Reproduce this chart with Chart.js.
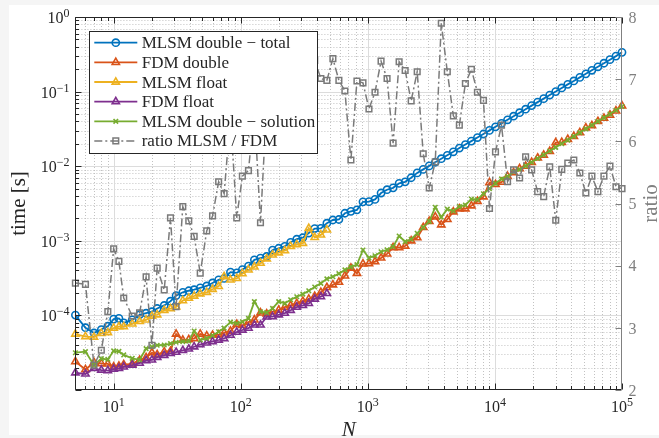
<!DOCTYPE html>
<html><head><meta charset="utf-8">
<script src="https://cdn.jsdelivr.net/npm/chart.js@4.4.1/dist/chart.umd.min.js"></script>
<style>html,body{margin:0;padding:0;background:#f5f5f5;overflow:hidden}canvas{display:block}</style>
</head><body>
<canvas id="c" width="659" height="438"></canvas>
<script>
// ---- data ----
const N = [5,6,7,8,9,10,11,12,14,16,18,20,22,25,28,31,35,39,43,48,54,60,67,74,83,93,103,115,128,143,160,178,199,222,247,276,308,343,382,427,476,531,592,660,736,821,916,1021,1139,1271,1417,1581,1763,1966,2193,2446,2728,3042,3393,3784,4221,4708,5250,5856,6531,7284,8125,9062,10106,11272,12572,14022,15639,17443,19454,21698,24201,26992,30105,33574,37447,41766,46583,51955,57943,64624,72079,80394,89672,100000];

const mlsmTotal = [1.01e-4,6.84e-5,5.82e-5,6.46e-5,7.16e-5,8.91e-5,9.12e-5,7.94e-5,8.71e-5,1.02e-4,
1.07e-4,1.12e-4,1.24e-4,1.36e-4,1.55e-4,1.84e-4,2.04e-4,2.14e-4,2.21e-4,2.34e-4,
2.48e-4,2.72e-4,2.99e-4,3.13e-4,3.80e-4,3.72e-4,4.12e-4,4.57e-4,5.56e-4,5.85e-4,
6.17e-4,7.50e-4,7.94e-4,8.41e-4,9.55e-4,1.05e-3,1.10e-3,1.27e-3,1.46e-3,1.47e-3,
1.72e-3,1.90e-3,1.93e-3,2.34e-3,2.48e-3,2.60e-3,3.33e-3,3.35e-3,3.59e-3,4.37e-3,
4.84e-3,5.13e-3,5.89e-3,6.17e-3,7.00e-3,8.13e-3,9.06e-3,1.01e-2,1.13e-2,1.26e-2,
1.40e-2,1.56e-2,1.75e-2,1.95e-2,2.17e-2,2.42e-2,2.70e-2,3.02e-2,3.37e-2,3.75e-2,
4.19e-2,4.68e-2,5.21e-2,5.81e-2,6.49e-2,7.23e-2,8.05e-2,8.99e-2,0.100,0.112,
0.125,0.139,0.155,0.173,0.193,0.215,0.240,0.268,0.299,0.336];

const fdmDouble = [2.40e-5,1.88e-5,2.34e-5,2.26e-5,2.24e-5,2.04e-5,2.09e-5,2.19e-5,2.24e-5,2.51e-5,
2.72e-5,3.16e-5,2.99e-5,3.24e-5,3.31e-5,5.62e-5,4.68e-5,4.73e-5,4.90e-5,5.62e-5,
5.31e-5,5.43e-5,5.50e-5,5.82e-5,6.17e-5,7.59e-5,7.33e-5,8.13e-5,8.71e-5,1.08e-4,
1.05e-4,1.12e-4,1.18e-4,1.29e-4,1.36e-4,1.45e-4,1.55e-4,1.66e-4,1.80e-4,2.04e-4,
2.37e-4,2.57e-4,2.79e-4,3.39e-4,4.32e-4,3.67e-4,4.90e-4,4.95e-4,5.27e-4,5.89e-4,
6.68e-4,8.13e-4,8.13e-4,8.51e-4,1.00e-3,1.10e-3,1.51e-3,1.82e-3,2.09e-3,1.64e-3,
1.94e-3,2.45e-3,2.69e-3,2.69e-3,2.95e-3,3.39e-3,3.89e-3,6.03e-3,5.69e-3,6.10e-3,
7.33e-3,8.22e-3,9.27e-3,1.00e-2,1.13e-2,1.29e-2,1.41e-2,1.58e-2,2.07e-2,2.09e-2,
2.29e-2,2.51e-2,2.82e-2,3.26e-2,3.51e-2,3.98e-2,4.40e-2,4.84e-2,5.52e-2,6.43e-2];

const mlsmFloat = [5.62e-5,5.19e-5,5.13e-5,5.75e-5,5.89e-5,6.76e-5,7.06e-5,7.06e-5,7.71e-5,8.32e-5,
8.71e-5,9.82e-5,1.02e-4,1.17e-4,1.23e-4,1.30e-4,1.58e-4,1.70e-4,1.82e-4,1.95e-4,
2.04e-4,2.24e-4,2.45e-4,3.31e-4,2.99e-4,3.13e-4,3.63e-4,4.07e-4,4.47e-4,5.01e-4,
5.75e-4,6.46e-4,6.92e-4,7.41e-4,8.41e-4,8.91e-4,9.23e-4,1.47e-3,1.11e-3,1.20e-3,
1.40e-3];

const fdmFloat = [1.70e-5,1.64e-5,1.95e-5,1.85e-5,1.82e-5,1.91e-5,1.95e-5,2.04e-5,2.16e-5,2.29e-5,
2.48e-5,2.53e-5,2.75e-5,2.92e-5,3.09e-5,3.21e-5,3.39e-5,3.55e-5,3.80e-5,4.07e-5,
4.27e-5,4.47e-5,4.68e-5,4.90e-5,5.43e-5,5.96e-5,6.37e-5,6.76e-5,7.45e-5,7.45e-5,
9.55e-5,9.62e-5,1.02e-4,1.07e-4,1.17e-4,1.29e-4,1.36e-4,1.45e-4,1.66e-4,1.78e-4,
1.97e-4];

const mlsmSolution = [3.16e-5,3.27e-5,2.16e-5,2.63e-5,2.57e-5,3.35e-5,3.29e-5,2.95e-5,2.66e-5,2.54e-5,
3.59e-5,3.80e-5,3.98e-5,4.01e-5,4.19e-5,4.37e-5,4.45e-5,4.52e-5,6.17e-5,4.68e-5,
4.93e-5,5.37e-5,6.03e-5,6.76e-5,8.13e-5,7.85e-5,8.22e-5,9.12e-5,1.53e-4,1.12e-4,
1.09e-4,1.24e-4,1.53e-4,1.45e-4,1.62e-4,1.78e-4,1.93e-4,2.14e-4,2.40e-4,2.69e-4,
3.09e-4,3.30e-4,3.63e-4,4.07e-4,4.47e-4,4.79e-4,7.53e-4,5.89e-4,6.31e-4,7.14e-4,
7.59e-4,8.34e-4,1.16e-3,9.73e-4,1.05e-3,1.26e-3,1.51e-3,1.82e-3,2.82e-3,2.08e-3,
2.66e-3,2.51e-3,2.88e-3,3.02e-3,3.63e-3,3.55e-3,4.27e-3,5.01e-3,5.89e-3,6.76e-3,
7.24e-3,8.43e-3,9.02e-3,1.01e-2,1.13e-2,1.27e-2,1.42e-2,1.60e-2,1.79e-2,2.00e-2,
2.24e-2,2.51e-2,2.82e-2,3.16e-2,3.55e-2,3.98e-2,4.47e-2,5.01e-2,5.62e-2,6.31e-2];

const ratio = [3.72,3.70,2.40,2.64,3.26,4.27,4.07,3.48,3.19,3.24,
3.82,2.72,3.96,3.61,4.77,3.34,4.95,4.72,4.47,3.88,
4.56,4.80,5.35,5.16,6.40,4.77,5.44,5.53,6.50,4.69,
6.60,6.70,6.70,6.50,7.00,7.20,7.00,7.40,7.30,7.01,
6.98,7.33,6.98,6.81,5.70,6.97,6.94,6.52,6.79,7.29,
7.01,5.97,7.28,7.14,6.65,7.12,5.80,5.25,5.67,7.90,
7.12,6.41,6.26,6.93,7.16,6.79,6.66,4.92,5.83,6.26,
5.35,5.54,5.41,5.75,5.54,5.19,5.11,5.59,4.73,5.55,
5.65,5.70,5.49,5.17,5.44,5.19,5.44,5.60,5.27,5.24];

const xTickExps = [1,2,3,4,5];
const yTickExps = [0,-1,-2,-3,-4];
const ratioTicks = [2,3,4,5,6,7,8];
const seriesLabels = ['MLSM double \u2212 total','FDM double','MLSM float','FDM float','MLSM double \u2212 solution','ratio MLSM / FDM'];

// ---- styles ----
const COLORS = ['#0072BD','#D95319','#EDB120','#7E2F8E','#77AC30','#7a7a7a'];
const STYLES = ['circle','triangle','triangle','triangle','crossRot','rect'];
const RADII = [3.6,4.2,4.2,4.2,3.2,4.0];
const DASHDOT = [8,3,2,3];
const AX = '#262626';
const SERIF = '"Liberation Serif","Times New Roman",serif';

function pts(xs, ys){ return ys.map((v,i)=>({x:xs[i], y:v})); }
function ds(i, ys, axis, order){
  return {
    label: seriesLabels[i], data: pts(N, ys), yAxisID: axis, order: order,
    borderColor: COLORS[i], backgroundColor: 'rgba(0,0,0,0)',
    borderWidth: i===5 ? 1.5 : 1.8, borderDash: i===5 ? DASHDOT : [],
    pointStyle: STYLES[i], pointRadius: RADII[i], pointHoverRadius: RADII[i],
    pointBorderColor: COLORS[i], pointBackgroundColor: 'rgba(0,0,0,0)',
    pointBorderWidth: i===5 ? 1.5 : 1.6, tension: 0, clip: false
  };
}

function pow10(ctx, exp, x, y, align, color){
  const base = '10', e = exp < 0 ? '\u2212' + (-exp) : String(exp);
  ctx.font = '16px ' + SERIF; const wb = ctx.measureText(base).width;
  ctx.font = '12px ' + SERIF; const we = ctx.measureText(e).width;
  const tot = wb + we;
  const x0 = align === 'center' ? x - tot/2 : x - tot;
  ctx.fillStyle = color; ctx.textAlign = 'left'; ctx.textBaseline = 'alphabetic';
  ctx.font = '16px ' + SERIF; ctx.fillText(base, x0, y);
  ctx.font = '12px ' + SERIF; ctx.fillText(e, x0 + wb, y - 6);
}

const frame = {
  id: 'frame',
  beforeDraw(chart){
    const c = chart.ctx;
    c.save();
    c.fillStyle = '#f5f5f5'; c.fillRect(0,0,chart.width,chart.height);
    c.fillStyle = '#ffffff'; c.fillRect(9,5,chart.width-9,430);
    c.restore();
  },
  beforeDatasetsDraw(chart){
    const c = chart.ctx, a = chart.chartArea, x = chart.scales.x, y = chart.scales.y;
    c.save();
    c.beginPath(); c.rect(a.left,a.top,a.right-a.left,a.bottom-a.top); c.clip();
    c.lineWidth = 1;
    c.strokeStyle = '#c2c2c2'; c.setLineDash([1,2]);
    c.beginPath();
    for (let d=0; d<5; d++) for (let m=2; m<=9; m++){
      const v = m*Math.pow(10,d);
      if (v < x.min || v > x.max) continue;
      const px = Math.round(x.getPixelForValue(v))+0.5;
      c.moveTo(px,a.top); c.lineTo(px,a.bottom);
    }
    for (let d=-5; d<0; d++) for (let m=2; m<=9; m++){
      const v = m*Math.pow(10,d);
      const py = Math.round(y.getPixelForValue(v))+0.5;
      c.moveTo(a.left,py); c.lineTo(a.right,py);
    }
    c.stroke();
    c.setLineDash([]); c.strokeStyle = '#dcdcdc';
    c.beginPath();
    xTickExps.forEach(e=>{ const px = Math.round(x.getPixelForValue(Math.pow(10,e)))+0.5; c.moveTo(px,a.top); c.lineTo(px,a.bottom); });
    yTickExps.forEach(e=>{ const py = Math.round(y.getPixelForValue(Math.pow(10,e)))+0.5; c.moveTo(a.left,py); c.lineTo(a.right,py); });
    c.stroke();
    c.restore();
  },
  afterDatasetsDraw(chart){
    const c = chart.ctx, a = chart.chartArea, x = chart.scales.x, y = chart.scales.y, y2 = chart.scales.y2;
    const L = Math.round(a.left)+0.5, R = Math.round(a.right)-0.5, T = Math.round(a.top)+0.5, B = Math.round(a.bottom)-0.5;
    c.save();
    c.lineWidth = 1; c.setLineDash([]);
    c.strokeStyle = AX; c.beginPath();
    for (let d=0; d<=5; d++) for (let m=1; m<=9; m++){
      const v = m*Math.pow(10,d);
      if (v < x.min || v > x.max) continue;
      const len = m===1 ? 6 : 3.5;
      const px = Math.round(x.getPixelForValue(v))+0.5;
      c.moveTo(px,B); c.lineTo(px,B-len); c.moveTo(px,T); c.lineTo(px,T+len);
    }
    for (let d=-5; d<=0; d++) for (let m=1; m<=9; m++){
      const v = m*Math.pow(10,d);
      if (v > y.max*1.0001) continue;
      const len = m===1 ? 6 : 3.5;
      const py = Math.round(y.getPixelForValue(v))+0.5;
      c.moveTo(L,py); c.lineTo(L+len,py);
    }
    c.stroke();
    c.beginPath(); c.moveTo(R,T); c.lineTo(L,T); c.lineTo(L,B); c.lineTo(R,B); c.stroke();
    c.strokeStyle = '#808080'; c.beginPath();
    c.moveTo(R,T); c.lineTo(R,B);
    ratioTicks.forEach(t=>{ const py = Math.round(y2.getPixelForValue(t))+0.5; c.moveTo(R,py); c.lineTo(R-6,py); });
    c.stroke();
    xTickExps.forEach(e=> pow10(c, e, x.getPixelForValue(Math.pow(10,e)), 411.5, 'center', AX));
    yTickExps.forEach(e=> pow10(c, e, 69.5, y.getPixelForValue(Math.pow(10,e))+6, 'right', AX));
    c.font = '16px ' + SERIF; c.fillStyle = '#808080'; c.textAlign = 'left';
    ratioTicks.forEach(t=> c.fillText(String(t), 628.5, y2.getPixelForValue(t)+5.7));
    c.fillStyle = AX; c.font = 'italic 21px ' + SERIF; c.textAlign = 'center';
    c.fillText('N', (a.left+a.right)/2, 436);
    c.save(); c.translate(25,(a.top+a.bottom)/2); c.rotate(-Math.PI/2);
    c.font = '21px ' + SERIF; c.fillText('time [s]', 0, 0); c.restore();
    c.save(); c.translate(657,(a.top+a.bottom)/2); c.rotate(-Math.PI/2);
    c.fillStyle = '#808080'; c.font = '21px ' + SERIF; c.fillText('ratio', 0, 0); c.restore();
    // legend
    const bx = 89.5, by = 31.5, bw = 228, bh = 122;
    c.fillStyle = '#ffffff'; c.fillRect(bx,by,bw,bh);
    c.strokeStyle = AX; c.strokeRect(bx,by,bw,bh);
    seriesLabels.forEach((lab,i)=>{
      const ry = 42.7 + i*19.65;
      c.save();
      c.strokeStyle = COLORS[i]; c.lineWidth = i===5 ? 1.5 : 1.8;
      c.setLineDash(i===5 ? DASHDOT : []);
      c.beginPath(); c.moveTo(94.3,ry); c.lineTo(137.3,ry); c.stroke();
      c.setLineDash([]);
      c.lineWidth = i===5 ? 1.5 : 1.6; c.fillStyle = 'rgba(0,0,0,0)';
      Chart.helpers.drawPoint(c, {pointStyle: STYLES[i], radius: RADII[i], rotation: 0, borderWidth: c.lineWidth}, 115.8, ry);
      c.restore();
      c.fillStyle = AX; c.font = '17px ' + SERIF; c.textAlign = 'left'; c.textBaseline = 'alphabetic';
      c.fillText(lab, 141.7, ry + 5.5);
    });
    c.restore();
  }
};

new Chart(document.getElementById('c'), {
  type: 'line',
  data: { datasets: [
    ds(0, mlsmTotal, 'y', 5),
    ds(1, fdmDouble, 'y', 4),
    ds(2, mlsmFloat, 'y', 3),
    ds(3, fdmFloat, 'y', 2),
    ds(4, mlsmSolution, 'y', 1),
    ds(5, ratio, 'y2', 0)
  ]},
  options: {
    responsive: false, animation: false, devicePixelRatio: 1,
    layout: { padding: { top: 17, left: 0, right: 0, bottom: 0 } },
    plugins: { legend: { display: false }, tooltip: { enabled: false } },
    events: [],
    scales: {
      x: { type: 'logarithmic', min: 5, max: 100000, position: 'bottom',
           ticks: { display: false }, grid: { display: false }, border: { display: false },
           afterFit: s => { s.height = 48; } },
      y: { type: 'logarithmic', min: 1e-5, max: 1, position: 'left',
           ticks: { display: false }, grid: { display: false }, border: { display: false },
           afterFit: s => { s.width = 75.4; } },
      y2: { type: 'linear', min: 2, max: 8, position: 'right',
           ticks: { display: false }, grid: { display: false }, border: { display: false },
           afterFit: s => { s.width = 37; } }
    }
  },
  plugins: [frame]
});
</script>
</body></html>
